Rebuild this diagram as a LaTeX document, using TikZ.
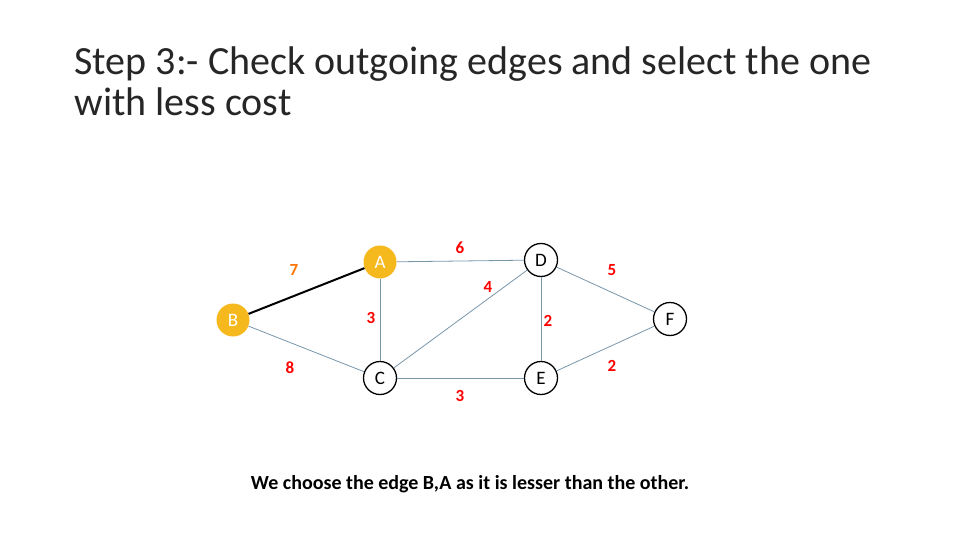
\documentclass[tikz,border=0pt]{standalone}
\usepackage{fontspec}
\setmainfont{Carlito}
\definecolor{edgec}{RGB}{120,150,170}
\definecolor{selc}{RGB}{245,185,30}
\begin{document}
\begin{tikzpicture}[x=1pt,y=-1pt,
  vert/.style={circle,draw=black,line width=1.3pt,fill=white,minimum size=33pt,inner sep=0pt,font=\fontsize{19}{19}\selectfont},
  sel/.style={circle,fill=selc,text=white,minimum size=33pt,inner sep=0pt,font=\fontsize{19}{19}\selectfont},
  edge/.style={draw=edgec,line width=0.8pt},
  w/.style={text=red,font=\bfseries\fontsize{17}{17}\selectfont}]
\useasboundingbox (0,0) rectangle (960,540);
\node[anchor=base west,font=\fontsize{40}{48}\selectfont,text=black!85] (t1) at (71,75) {Step 3:- Check outgoing edges and select the one};
\node[anchor=base west,font=\fontsize{40}{48}\selectfont,text=black!85] (t2) at (71,116) {with less cost};
\node[sel] (A) at (380,262) {A};
\node[sel] (B) at (233,320) {B};
\node[vert] (C) at (380,378) {C};
\node[vert] (D) at (541,260) {D};
\node[vert] (E) at (541,378) {E};
\node[vert] (F) at (670,319) {F};
\draw[line width=2pt] (B) -- (A);
\draw[edge] (A) -- (D);
\draw[edge] (A) -- (C);
\draw[edge] (B) -- (C);
\draw[edge] (C) -- (D);
\draw[edge] (C) -- (E);
\draw[edge] (D) -- (E);
\draw[edge] (D) -- (F);
\draw[edge] (E) -- (F);
\node[w,text=orange!90!red] (w7) at (294,270) {7};
\node[w] (w6) at (460,248) {6};
\node[w] (w4) at (488,287) {4};
\node[w] (w5) at (612,270) {5};
\node[w] (w3a) at (371,318) {3};
\node[w] (w2a) at (548,321) {2};
\node[w] (w8) at (290,368) {8};
\node[w] (w3b) at (460,396) {3};
\node[w] (w2b) at (612,366) {2};
\node[font=\bfseries\fontsize{20}{24}\selectfont] (cap) at (470,484) {We choose the edge B,A as it is lesser than the other.};
\end{tikzpicture}
\end{document}
